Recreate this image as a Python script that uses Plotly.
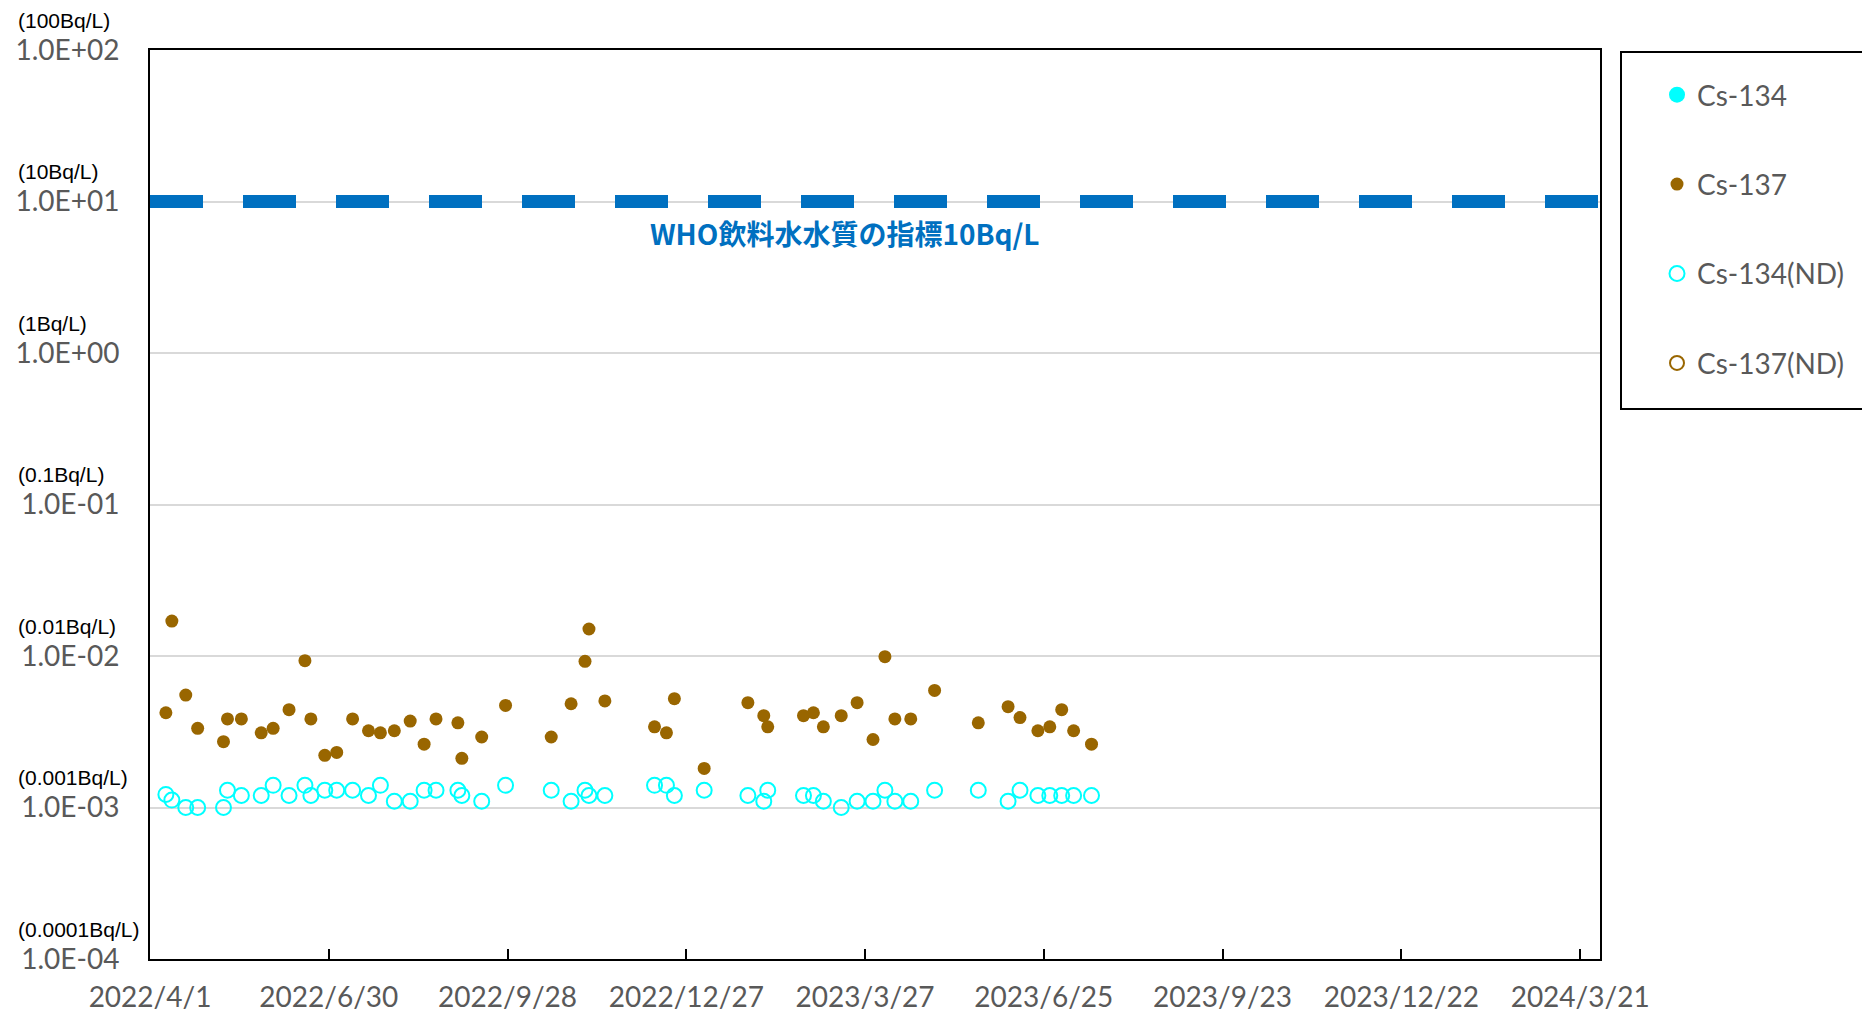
import math
import plotly.graph_objects as go

# ---------------- data ----------------
sample_dates = [
    "2022-04-09", "2022-04-12", "2022-04-19", "2022-04-25", "2022-05-08", "2022-05-10",
    "2022-05-17", "2022-05-27", "2022-06-02", "2022-06-10", "2022-06-18", "2022-06-21",
    "2022-06-28", "2022-07-04", "2022-07-12", "2022-07-20", "2022-07-26", "2022-08-02",
    "2022-08-10", "2022-08-17", "2022-08-23", "2022-09-03", "2022-09-05", "2022-09-15",
    "2022-09-27", "2022-10-20", "2022-10-30", "2022-11-06", "2022-11-08", "2022-11-16",
    "2022-12-11", "2022-12-17", "2022-12-21", "2023-01-05", "2023-01-27", "2023-02-04",
    "2023-02-06", "2023-02-24", "2023-03-01", "2023-03-06", "2023-03-15", "2023-03-23",
    "2023-03-31", "2023-04-06", "2023-04-11", "2023-04-19", "2023-05-01", "2023-05-23",
    "2023-06-07", "2023-06-13", "2023-06-22", "2023-06-28", "2023-07-04", "2023-07-10",
    "2023-07-19",
]

cs137 = [
    0.00422, 0.0170, 0.00552, 0.00333, 0.00272, 0.00384,
    0.00384, 0.00311, 0.00333, 0.00442, 0.00932, 0.00384,
    0.00221, 0.00231, 0.00384, 0.00321, 0.00311, 0.00321,
    0.00372, 0.00262, 0.00384, 0.00362, 0.00211, 0.00292,
    0.00472, 0.00292, 0.00484, 0.00922, 0.01507, 0.00505,
    0.00341, 0.00311, 0.00523, 0.00181, 0.00492, 0.00404,
    0.00341, 0.00404, 0.00422, 0.00341, 0.00404, 0.00492,
    0.00281, 0.00990, 0.00384, 0.00384, 0.00593, 0.00362,
    0.00463, 0.00392, 0.00321, 0.00341, 0.00442, 0.00321,
    0.00262,
]

cs134_nd = [
    0.00122, 0.00112, 0.0010, 0.0010, 0.0010, 0.0013,
    0.0012, 0.0012, 0.0014, 0.0012, 0.0014, 0.0012,
    0.0013, 0.0013, 0.0013, 0.0012, 0.0014, 0.0011,
    0.0011, 0.0013, 0.0013, 0.0013, 0.0012, 0.0011,
    0.0014, 0.0013, 0.0011, 0.0013, 0.0012, 0.0012,
    0.0014, 0.0014, 0.0012, 0.0013, 0.0012, 0.0011,
    0.0013, 0.0012, 0.0012, 0.0011, 0.0010, 0.0011,
    0.0011, 0.0013, 0.0011, 0.0011, 0.0013, 0.0013,
    0.0011, 0.0013, 0.0012, 0.0012, 0.0012, 0.0012,
    0.0012,
]

cs134_dates = [None]      # no detected Cs-134 (legend entry only)
cs134 = [None]
cs137_nd_dates = [None]   # no Cs-137 ND (legend entry only)
cs137_nd = [None]

who_limit = 10
who_label = "WHO飲料水水質の指標10Bq/L"

x_range = ["2022-04-01", "2024-03-31"]
y_tick_vals = [1e-4, 1e-3, 1e-2, 1e-1, 1e0, 1e1, 1e2]
y_tick_text = ["1.0E-04", "1.0E-03", "1.0E-02", "1.0E-01", "1.0E+00", "1.0E+01", "1.0E+02"]
y_unit_text = ["(0.0001Bq/L)", "(0.001Bq/L)", "(0.01Bq/L)", "(0.1Bq/L)", "(1Bq/L)", "(10Bq/L)", "(100Bq/L)"]

# ---------------- style ----------------
CYAN = "#00FFFF"
BROWN = "#996600"
BLUE = "#0070C0"
GRAY = "#595959"
FONT = "Lato"

# page body has an 8px margin; figure is sized to fit the window exactly
OFF = 8
W, H = 1870 - OFF, 1014 - OFF
PL, PT, PR, PB = 150 - OFF, 50 - OFF, 1600 - OFF, 959 - OFF   # plot area in figure px
PW, PH = PR - PL, PB - PT


def px_x(x):  # page px -> paper x
    return (x - OFF - PL) / PW


def px_y(y):  # page px -> paper y
    return 1 - (y - OFF - PT) / PH


fig = go.Figure()

fig.add_trace(go.Scatter(
    x=x_range, y=[who_limit, who_limit], mode="lines",
    line=dict(color=BLUE, width=13, dash="53px,40px"),
    showlegend=False, hoverinfo="skip",
))

fig.add_trace(go.Scatter(
    x=cs134_dates, y=cs134, mode="markers", name="Cs-134",
    marker=dict(symbol="circle", size=16, color=CYAN),
    legendgroup="a",
))
fig.add_trace(go.Scatter(
    x=sample_dates, y=cs137, mode="markers", name="Cs-137",
    marker=dict(symbol="circle", size=13, color=BROWN),
    legendgroup="b",
))
fig.add_trace(go.Scatter(
    x=sample_dates, y=cs134_nd, mode="markers", name="Cs-134(ND)",
    marker=dict(symbol="circle-open", size=15, color=CYAN, line=dict(width=2, color=CYAN)),
    legendgroup="c",
))
fig.add_trace(go.Scatter(
    x=cs137_nd_dates, y=cs137_nd, mode="markers", name="Cs-137(ND)",
    marker=dict(symbol="circle-open", size=14, color=BROWN, line=dict(width=2, color=BROWN)),
    legendgroup="d",
))

annotations = [
    dict(text=f"<b>{who_label}</b>", xref="paper", yref="y", x=px_x(845), y=math.log10(who_limit),
         yshift=-31, showarrow=False, xanchor="center", yanchor="middle",
         font=dict(family="Noto Sans CJK JP", size=28, color=BLUE)),
]
for v, t in zip(y_tick_vals, y_unit_text):
    annotations.append(dict(
        text=t, xref="paper", yref="y", x=px_x(16), y=math.log10(v), yshift=30,
        showarrow=False, xanchor="left", yanchor="middle",
        font=dict(family="Liberation Sans", size=21, color="black"),
    ))

shapes = [
    dict(type="rect", xref="paper", yref="paper",
         x0=px_x(1621), x1=1.25, y0=px_y(409), y1=px_y(52),
         line=dict(color="black", width=2), fillcolor="rgba(0,0,0,0)", layer="above"),
]

fig.update_layout(
    width=W, height=H,
    margin=dict(l=PL, r=W - PR, t=PT, b=H - PB, autoexpand=False),
    paper_bgcolor="white", plot_bgcolor="white",
    font=dict(family=FONT, size=28, color=GRAY),
    showlegend=True,
    legend=dict(
        x=px_x(1657), y=px_y(70), xanchor="left", yanchor="top",
        bgcolor="rgba(0,0,0,0)", borderwidth=0,
        font=dict(family=FONT, size=28, color=GRAY),
        tracegroupgap=50, traceorder="grouped",
    ),
    xaxis=dict(
        type="date", range=x_range,
        tick0="2022-04-01", dtick=90 * 86400000, tickformat="%Y/%-m/%-d",
        ticks="inside", ticklen=10, tickwidth=2, tickcolor="black",
        showgrid=False, showline=True, linecolor="black", linewidth=2, mirror=True,
        tickfont=dict(family=FONT, size=28, color=GRAY),
        ticklabelstandoff=12,
    ),
    yaxis=dict(
        type="log", range=[-4, 2],
        tickvals=y_tick_vals, ticktext=y_tick_text,
        showgrid=True, gridcolor="#D9D9D9", gridwidth=1.5,
        showline=True, linecolor="black", linewidth=2, mirror=True,
        ticks="", tickfont=dict(family=FONT, size=28, color=GRAY),
        ticklabelstandoff=23,
    ),
    annotations=annotations,
    shapes=shapes,
)

fig.write_html("out.html")
